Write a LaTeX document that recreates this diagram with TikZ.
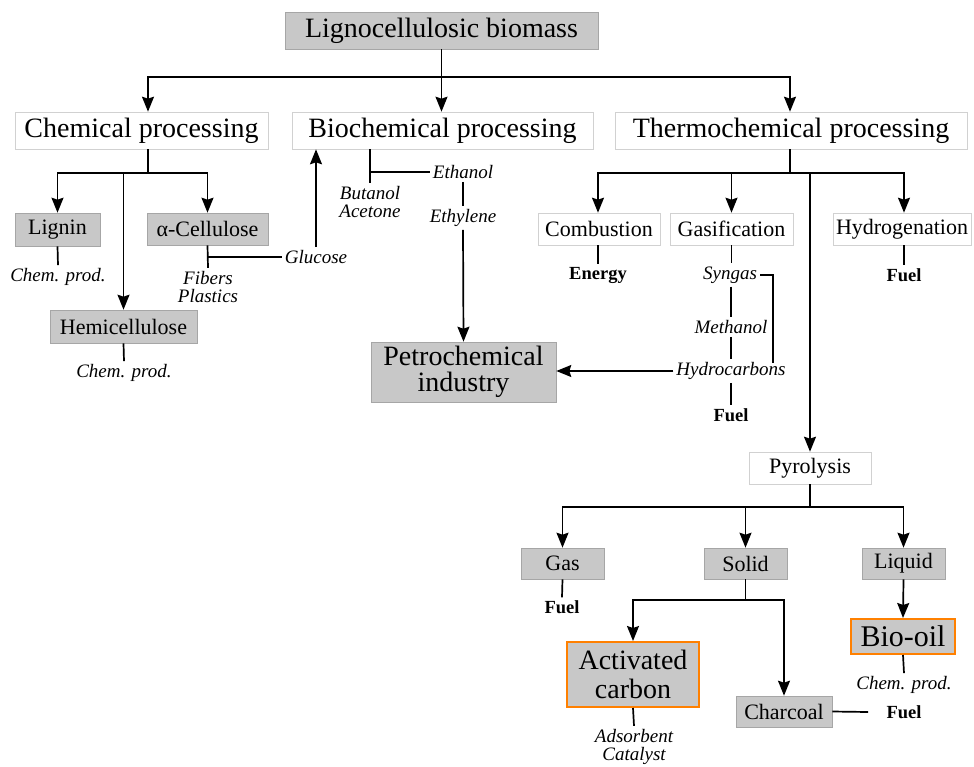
\documentclass[tikz,border=0pt]{standalone}
\usepackage{fontspec}
\setmainfont{Liberation Serif}
\usetikzlibrary{arrows.meta,calc}
\definecolor{boxgray}{RGB}{200,200,200}
\definecolor{orangeb}{RGB}{255,128,0}
\tikzset{
  con/.style={line width=1.7pt, draw=black},
  arr/.style={con, -{Stealth[length=15pt,width=12pt,inset=2pt]}},
  bigf/.style={font=\fontsize{28}{27}\selectfont},
  medf/.style={font=\fontsize{22}{24}\selectfont},
  gbox/.style={fill=boxgray, draw=black!35, line width=0.6pt, inner sep=0pt, align=center},
  wbox/.style={fill=white, draw=black!18, line width=0.6pt, inner sep=0pt, align=center},
  obox/.style={fill=boxgray, draw=orangeb, line width=2pt, inner sep=0pt, align=center},
  itl/.style={font=\fontsize{19}{18.5}\selectfont\itshape, inner sep=3pt, align=center},
  bfl/.style={font=\fontsize{18.5}{19}\selectfont\bfseries, inner sep=3pt},
}
\begin{document}
\begin{tikzpicture}[x=1pt,y=-1pt]
\useasboundingbox (0,0) rectangle (974,766);
% top level
\node[gbox,bigf,minimum width=313pt,minimum height=37pt] (top) at (441.5,30.5) {Lignocellulosic biomass};
\node[wbox,bigf,minimum width=253pt,minimum height=37pt] (chem) at (141.5,130.5) {Chemical processing};
\node[wbox,bigf,minimum width=301pt,minimum height=37pt] (bio) at (442.5,130.5) {Biochemical processing};
\node[wbox,bigf,minimum width=352pt,minimum height=37pt] (thermo) at (791,130.5) {Thermochemical processing};
% chemical
\node[gbox,medf,minimum width=85pt,minimum height=33pt] (lignin) at (57.5,229.5) {Lignin};
\node[gbox,medf,minimum width=121pt,minimum height=32pt] (cellulose) at (207.5,229) {α-Cellulose};
\node[gbox,medf,minimum width=147pt,minimum height=33pt] (hemi) at (123.5,326.5) {Hemicellulose};
\node[itl] (cp1) at (58,277) {Chem. prod.};
\node[itl] (fibers) at (208,287) {Fibers\\Plastics};
\node[itl] (glucose) at (316,257) {Glucose};
\node[itl] (cp2) at (124,373) {Chem. prod.};
% biochemical
\node[itl] (butanol) at (370,202) {Butanol\\Acetone};
\node[itl] (ethanol) at (463,172) {Ethanol};
\node[itl] (ethylene) at (463,218) {Ethylene};
\node[gbox,font=\fontsize{28}{26}\selectfont,minimum width=185pt,minimum height=60pt] (petro) at (463.5,372) {Petrochemical\\industry};
% thermochemical
\node[wbox,medf,minimum width=122pt,minimum height=32pt] (comb) at (599,229) {Combustion};
\node[wbox,medf,minimum width=123pt,minimum height=32pt] (gasif) at (731.5,229) {Gasification};
\node[wbox,medf,minimum width=138pt,minimum height=32pt] (hydro) at (902,229) {Hydrogenation};
\node[bfl] (energy) at (598,275) {Energy};
\node[bfl] (fuelh) at (904,275) {Fuel};
\node[itl] (syngas) at (730,275) {Syngas};
\node[itl] (methanol) at (731,327) {Methanol};
\node[itl] (hydroc) at (731,371) {Hydrocarbons};
\node[bfl] (fuelg) at (731,415) {Fuel};
% pyrolysis
\node[wbox,medf,minimum width=122pt,minimum height=32pt] (pyro) at (810,468) {Pyrolysis};
\node[gbox,medf,minimum width=83pt,minimum height=31pt] (gas) at (562.5,563.5) {Gas};
\node[gbox,medf,minimum width=83pt,minimum height=31pt] (solid) at (745.5,563.5) {Solid};
\node[gbox,medf,minimum width=83pt,minimum height=31pt] (liquid) at (903.5,563.5) {Liquid};
\node[bfl] (fuelp) at (562,607) {Fuel};
\node[obox,font=\fontsize{28}{29}\selectfont,minimum width=132pt,minimum height=65pt] (actc) at (633,674.5) {Activated\\carbon};
\node[gbox,medf,minimum width=96pt,minimum height=31pt] (charcoal) at (784,711.5) {Charcoal};
\node[obox,font=\fontsize{30}{30}\selectfont,minimum width=104pt,minimum height=35pt] (biooil) at (903,636.5) {Bio-oil};
\node[itl] (adsorb) at (634,747) {Adsorbent\\Catalyst};
\node[itl] (cp3) at (904,685) {Chem. prod.};
\node[bfl] (fuelc) at (904,712) {Fuel};
% connectors: top
\draw[con] (top.south) -- ++(0,28) coordinate (tj);
\draw[arr] (tj) -| ([xshift=6.5pt]chem.north);
\draw[arr] (tj) -- (tj |- bio.north);
\draw[arr] (tj) -| ([xshift=-1pt]thermo.north);
% chemical
\draw[con] ([xshift=6.5pt]chem.south) -- ++(0,24) coordinate (cj);
\draw[arr] (cj) -| (lignin.north);
\draw[arr] (cj) -| (cellulose.north);
\draw[arr] (cj -| hemi.north) -- (hemi.north);
\draw[con] (lignin.south) -- (cp1.north);
\draw[con] (hemi.south) -- (cp2.north);
\draw[con] (cellulose.south) -- (fibers.north);
\draw[con] (cellulose.south |- glucose.west) -- (glucose.west);
\draw[arr] (glucose.north) -- (glucose.north |- bio.south);
% biochemical
\coordinate (bj) at (370,172);
\draw[con] (bio.south -| bj) -- (butanol.north);
\draw[con] (bj) -- (ethanol.west);
\draw[con] (ethanol.south) -- (ethylene.north);
\draw[arr] (ethylene.south) -- (petro.north);
% thermochemical
\draw[con] ([xshift=-1pt]thermo.south) -- ++(0,24) coordinate (thj);
\draw[arr] (thj) -| ([xshift=-1pt]comb.north);
\draw[arr] (thj) -| (gasif.north);
\draw[arr] (thj) -| ([xshift=2pt]hydro.north);
\draw[arr] (thj -| pyro.north) -- (pyro.north);
\draw[con] ([xshift=-1pt]comb.south) -- (energy.north);
\draw[con] ([xshift=2pt]hydro.south) -- (fuelh.north);
\draw[con] (gasif.south) -- (gasif.south |- syngas.north);
\draw[con] (methanol.north |- syngas.south) -- (methanol.north);
\draw[con] (methanol.south) -- (hydroc.north -| methanol.south);
\draw[con] (hydroc.south -| fuelg.north) -- (fuelg.north);
\coordinate (sge) at (773,363);
\draw[con] (syngas.east) -| (sge);
\draw[arr] (hydroc.west) -- (hydroc.west -| petro.east);
% pyrolysis
\draw[con] (pyro.south) -- ++(0,23) coordinate (pj);
\draw[arr] (pj) -| (gas.north);
\draw[arr] (pj) -| (solid.north);
\draw[arr] (pj) -| (liquid.north);
\draw[con] (gas.south) -- (fuelp.north);
\draw[con] (solid.south) -- ++(0,21) coordinate (sj);
\draw[arr] (sj) -| (actc.north);
\draw[arr] (sj) -| (charcoal.north);
\draw[arr] (liquid.south) -- (biooil.north);
\draw[con] (actc.south) -- (adsorb.north);
\draw[con] (biooil.south) -- (cp3.north);
\coordinate (chf) at (868,712);
\draw[con] (charcoal.east) -- (chf);
\end{tikzpicture}
\end{document}
